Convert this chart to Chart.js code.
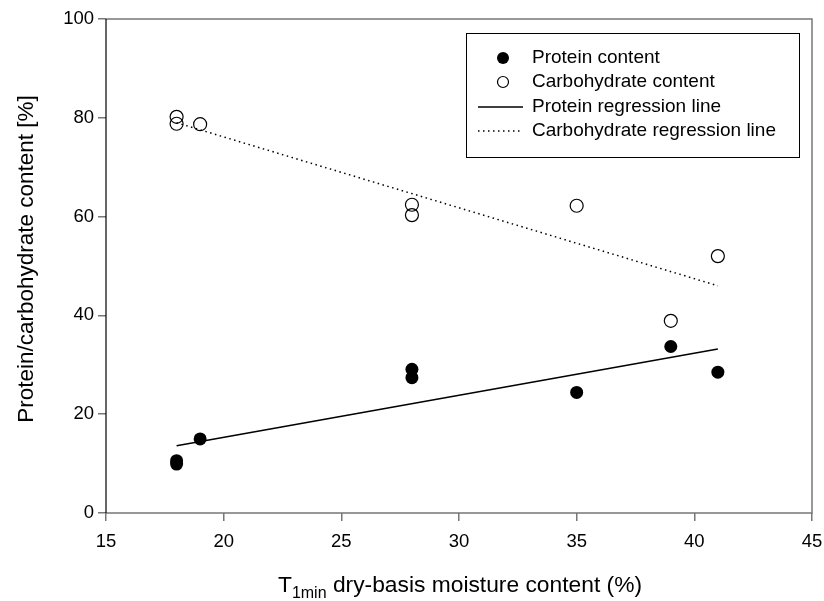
<!DOCTYPE html>
<html>
<head>
<meta charset="utf-8">
<script src="https://cdn.jsdelivr.net/npm/chart.js@4"></script>
<style>
  body { margin: 0; background: #fff; }
  #wrap { width: 824px; height: 601px; position: relative; }
</style>
</head>
<body>
<div id="wrap"><canvas id="chart" width="824" height="601"></canvas></div>
<script>
// data
const proteinX = [18, 18, 19, 28, 28, 35, 39, 41];
const proteinY = [10.6, 9.9, 15.0, 29.1, 27.4, 24.4, 33.7, 28.5];
const carbX = [18, 18, 19, 28, 28, 35, 39, 41];
const carbY = [80.2, 78.8, 78.7, 62.4, 60.3, 62.2, 38.9, 52.0];
const proteinFitX = [18, 41];
const proteinFitY = [13.6, 33.2];
const carbFitX = [18, 41];
const carbFitY = [79.0, 46.0];
const xTicks = [15, 20, 25, 30, 35, 40, 45];
const yTicks = [0, 20, 40, 60, 80, 100];
const legendLabels = ['Protein content', 'Carbohydrate content', 'Protein regression line', 'Carbohydrate regression line'];

const FONT = 'Arial, "Liberation Sans", sans-serif';

function pts(xs, ys) {
    return xs.map((x, i) => ({ x: x, y: ys[i] }));
}

// frame, axis titles and boxed legend
const decorations = {
    id: 'decorations',
    afterDraw(chart) {
        const ctx = chart.ctx;
        const a = chart.chartArea;
        ctx.save();
        // frame
        ctx.lineWidth = 1.5;
        ctx.strokeStyle = '#777';
        ctx.beginPath();
        ctx.moveTo(a.left, a.top); ctx.lineTo(a.right, a.top);
        ctx.lineTo(a.right, a.bottom); ctx.lineTo(a.left, a.bottom);
        ctx.stroke();
        ctx.strokeStyle = '#000';
        ctx.lineWidth = 1.2;
        ctx.beginPath();
        ctx.moveTo(a.left, a.top); ctx.lineTo(a.left, a.bottom);
        ctx.stroke();

        // x title with subscript
        ctx.fillStyle = '#000';
        ctx.textBaseline = 'alphabetic';
        ctx.textAlign = 'left';
        const big = '22.8px ' + FONT, small = '16px ' + FONT;
        ctx.font = big;
        const w1 = ctx.measureText('T').width;
        const rest = ' dry-basis moisture content (%)';
        const w3 = ctx.measureText(rest).width;
        ctx.font = small;
        const w2 = ctx.measureText('1min').width;
        let x = 460 - (w1 + w2 + w3) / 2;
        const y = 592;
        ctx.font = big; ctx.fillText('T', x, y); x += w1;
        ctx.font = small; ctx.fillText('1min', x, y + 6); x += w2;
        ctx.font = big; ctx.fillText(rest, x, y);

        // y title
        ctx.save();
        ctx.translate(27, 259);
        ctx.rotate(-Math.PI / 2);
        ctx.textAlign = 'center';
        ctx.textBaseline = 'middle';
        ctx.font = '22.5px ' + FONT;
        ctx.fillText('Protein/carbohydrate content [%]', 0, 0);
        ctx.restore();

        // legend
        ctx.lineWidth = 1;
        ctx.strokeStyle = '#000';
        ctx.strokeRect(466.5, 33.5, 333, 124);
        const rows = [58, 82, 107, 131];
        ctx.font = '19px ' + FONT;
        ctx.textBaseline = 'middle';
        legendLabels.forEach((t, i) => ctx.fillText(t, 532, rows[i]));
        ctx.beginPath();
        ctx.arc(503, rows[0], 6, 0, Math.PI * 2);
        ctx.fill();
        ctx.beginPath();
        ctx.arc(503, rows[1], 5.5, 0, Math.PI * 2);
        ctx.lineWidth = 1.2;
        ctx.stroke();
        ctx.beginPath();
        ctx.moveTo(478, rows[2]); ctx.lineTo(523, rows[2]);
        ctx.lineWidth = 1.5;
        ctx.stroke();
        ctx.setLineDash([1.5, 3.5]);
        ctx.beginPath();
        ctx.moveTo(478, rows[3]); ctx.lineTo(523, rows[3]);
        ctx.stroke();
        ctx.restore();
    }
};

new Chart(document.getElementById('chart'), {
    type: 'scatter',
    data: {
        datasets: [
            {
                label: legendLabels[2],
                data: pts(proteinFitX, proteinFitY),
                showLine: true,
                borderColor: '#000',
                borderWidth: 1.5,
                pointRadius: 0
            },
            {
                label: legendLabels[3],
                data: pts(carbFitX, carbFitY),
                showLine: true,
                borderColor: '#000',
                borderWidth: 1.5,
                borderDash: [1.5, 3.5],
                pointRadius: 0
            },
            {
                label: legendLabels[0],
                data: pts(proteinX, proteinY),
                backgroundColor: '#000',
                borderColor: '#000',
                pointRadius: 6.5,
                borderWidth: 0
            },
            {
                label: legendLabels[1],
                data: pts(carbX, carbY),
                backgroundColor: 'rgba(0,0,0,0)',
                borderColor: '#000',
                pointRadius: 6.5,
                borderWidth: 1.2
            }
        ]
    },
    options: {
        responsive: false,
        animation: false,
        layout: { padding: { top: 19, right: 0, left: 0, bottom: 0 } },
        plugins: {
            legend: { display: false },
            tooltip: { enabled: false }
        },
        scales: {
            x: {
                type: 'linear',
                min: 15, max: 45,
                afterBuildTicks: s => { s.ticks = xTicks.map(v => ({ value: v })); },
                afterFit: s => { s.height = 88; s.paddingRight = 12; },
                border: { display: false },
                grid: { drawOnChartArea: false, tickLength: 8, color: '#777', lineWidth: 1.5 },
                ticks: { color: '#000', font: { family: FONT, size: 18.5 }, padding: 10, maxRotation: 0 }
            },
            y: {
                min: 0, max: 100,
                afterBuildTicks: s => { s.ticks = yTicks.map(v => ({ value: v })); },
                afterFit: s => { s.width = 106; },
                border: { display: false },
                grid: { drawOnChartArea: false, tickLength: 8, color: '#777', lineWidth: 1.5 },
                ticks: { color: '#000', font: { family: FONT, size: 18.5 }, padding: 4 }
            }
        }
    },
    plugins: [decorations]
});
</script>
</body>
</html>
